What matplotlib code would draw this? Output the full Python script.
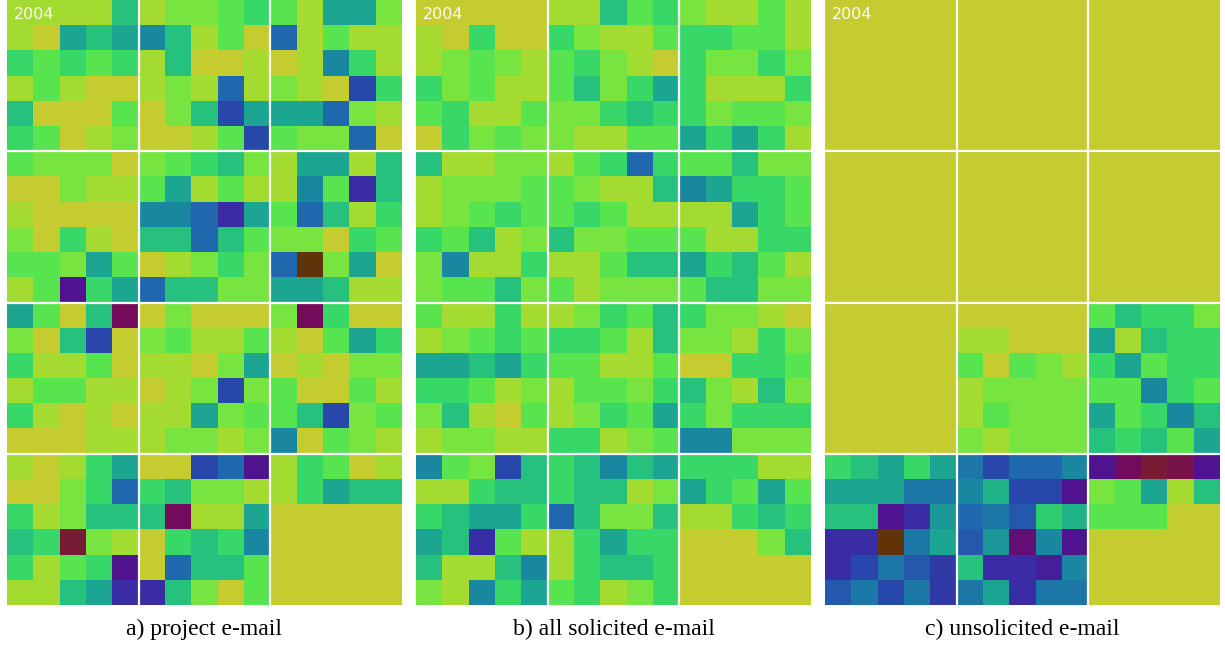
import numpy as np
import matplotlib
matplotlib.use("Agg")
import matplotlib.pyplot as plt
from matplotlib.colors import LinearSegmentedColormap, Normalize

# ---- data: activity level per day (24 rows x 15 cols; 12 months as 4x3 blocks of 6x5 days)
project = [
    [1,1,1,1,5, 1,2,2,3,4, 3,1,6,6,2],
    [1,0,6,5,6, 7,5,1,3,0, 8,1,3,1,1],
    [4,3,4,3,4, 1,5,0,0,1, 0,1,7,4,1],
    [1,3,1,0,0, 1,2,1,8,1, 2,1,0,9,4],
    [5,0,0,0,3, 0,2,5,9,6, 6,6,8,2,1],
    [4,3,0,1,2, 0,0,1,3,9, 3,2,2,8,0],
    [3,2,2,2,0, 2,3,4,5,2, 1,6,6,1,5],
    [0,0,2,1,1, 3,6,1,3,1, 1,7,3,10,5],
    [1,0,0,0,0, 7,7,8,10,6, 3,8,5,1,4],
    [2,0,4,1,0, 5,5,8,5,3, 2,2,0,4,3],
    [3,3,2,6,3, 0,1,2,4,2, 8,14,2,6,0],
    [1,3,11,4,6, 8,5,5,2,2, 6,6,5,1,1],
    [6,3,0,5,12, 0,2,0,0,0, 2,12,4,0,0],
    [2,0,5,9,0, 2,3,1,1,3, 1,0,3,6,4],
    [4,1,1,3,0, 1,1,0,2,6, 0,1,0,2,2],
    [1,3,3,1,1, 0,1,2,9,2, 3,0,0,3,1],
    [4,1,0,1,0, 1,1,6,2,3, 3,5,9,2,3],
    [0,0,0,1,1, 1,2,2,1,2, 7,0,3,2,1],
    [1,0,1,4,6, 0,0,9,8,11, 1,4,3,0,1],
    [0,0,2,4,8, 4,5,2,2,1, 1,4,6,5,5],
    [4,1,2,5,5, 5,12,1,1,6, 0,0,0,0,0],
    [5,4,13,2,1, 0,4,5,4,7, 0,0,0,0,0],
    [4,1,3,4,11, 0,8,5,5,3, 0,0,0,0,0],
    [1,1,5,6,10, 10,5,2,0,3, 0,0,0,0,0],
]

solicited = [
    [0,0,0,0,0, 1,1,5,3,4, 2,1,1,3,1],
    [1,0,4,0,0, 4,2,1,1,3, 4,4,3,3,1],
    [1,2,3,2,1, 3,4,2,1,0, 4,2,2,4,2],
    [4,2,3,1,1, 3,5,2,4,6, 4,1,1,1,4],
    [3,4,1,1,3, 2,2,4,5,4, 4,2,3,3,2],
    [0,4,2,3,2, 2,1,1,3,3, 6,4,6,4,1],
    [5,1,1,2,2, 1,3,4,8,4, 3,3,5,2,2],
    [1,2,2,2,3, 3,2,1,1,5, 7,6,4,4,3],
    [1,2,3,4,3, 3,4,3,1,1, 1,1,6,4,3],
    [4,3,5,1,2, 5,2,2,3,3, 3,1,1,4,4],
    [2,7,1,1,4, 1,1,3,5,5, 6,4,5,3,1],
    [2,3,3,5,2, 3,1,2,2,2, 3,5,5,2,2],
    [3,1,1,4,1, 1,2,4,3,5, 4,2,2,1,0],
    [1,2,3,4,3, 4,4,3,1,5, 2,2,1,4,2],
    [6,6,5,6,4, 3,3,1,1,3, 0,0,4,4,3],
    [4,4,3,1,2, 1,3,3,2,4, 5,2,1,5,2],
    [2,5,1,0,3, 1,2,4,3,6, 4,2,4,4,4],
    [1,2,2,1,1, 4,4,1,2,3, 7,7,2,2,2],
    [7,3,2,9,5, 4,5,7,5,6, 4,4,4,1,1],
    [1,1,4,5,5, 4,5,5,1,2, 6,4,3,6,3],
    [4,5,6,6,4, 8,5,2,2,5, 1,1,4,5,4],
    [6,5,10,3,1, 1,4,6,4,4, 0,0,0,2,5],
    [5,1,1,5,7, 1,4,5,5,4, 0,0,0,0,0],
    [2,1,7,4,6, 3,4,1,2,4, 0,0,0,0,0],
]

unsolicited = [[0] * 15 for _ in range(12)] + [
    [0,0,0,0,0, 0,0,0,0,0, 3,5,4,4,2],
    [0,0,0,0,0, 1,1,0,0,0, 6,1,5,4,4],
    [0,0,0,0,0, 3,0,3,2,1, 4,6,3,4,4],
    [0,0,0,0,0, 1,2,2,2,2, 3,3,7,4,3],
    [0,0,0,0,0, 1,3,2,2,2, 6,3,4,7,5],
    [0,0,0,0,0, 2,1,2,2,2, 5,4,5,3,6],
    [4,5,6,4,6, 7.5,9,8,8,7, 11,12,13,12.5,11],
    [6,6,6,7.5,7.5, 7,5.5,9,9,11, 2,3,6,1,5],
    [5,5,11,10,6.5, 8,7.5,8.5,4.5,5.5, 3,3,3,0,0],
    [10,10,14,7.5,6, 8.5,6.5,11.5,7,11, 0,0,0,0,0],
    [10,9,7.5,8.5,9.5, 5,10,10,10.5,7, 0,0,0,0,0],
    [8.5,7.5,9,7.5,9.5, 7.5,6,10,7.5,7.5, 0,0,0,0,0],
]

captions = ["a) project e-mail", "b) all solicited e-mail", "c) unsolicited e-mail"]
year_label = "2004"

# ---- colour scale
anchors = ["#c4cc30", "#a4dc30", "#78e440", "#58e450", "#38d868", "#26c27e",
           "#1ca692", "#1a88a0", "#1f68ae", "#2848ac", "#3a2ca4", "#501490",
           "#740a5c", "#781a34", "#603408"]
cmap = LinearSegmentedColormap.from_list("mailcal", anchors, N=512)
norm = Normalize(vmin=0, vmax=len(anchors) - 1)

W, H = 1225, 646
fig = plt.figure(figsize=(W / 100, H / 100), dpi=100)
fig.patch.set_facecolor("white")

lefts = [7, 416, 825]
pw, ph = 395, 605
for left, data, cap in zip(lefts, [project, solicited, unsolicited], captions):
    ax = fig.add_axes([left / W, (H - ph) / H, pw / W, ph / H])
    arr = np.array(data, dtype=float)
    ax.imshow(arr, cmap=cmap, norm=norm, interpolation="nearest",
              aspect="auto", extent=(0, 15, 24, 0))
    for x in (5, 10):
        ax.axvline(x, color="white", lw=1.6)
    for y in (6, 12, 18):
        ax.axhline(y, color="white", lw=1.6)
    ax.set_xlim(0, 15)
    ax.set_ylim(24, 0)
    ax.axis("off")
    ax.text(0.018, 0.988, year_label, transform=ax.transAxes, color="white",
            fontsize=11.5, family="DejaVu Sans", va="top", ha="left", alpha=0.95)
    fig.text((left + pw / 2) / W, 1 - 629 / H, cap, ha="center", va="center",
             fontsize=17, family="Liberation Serif", color="black")

fig.savefig("out.png", dpi=100, facecolor="white")
